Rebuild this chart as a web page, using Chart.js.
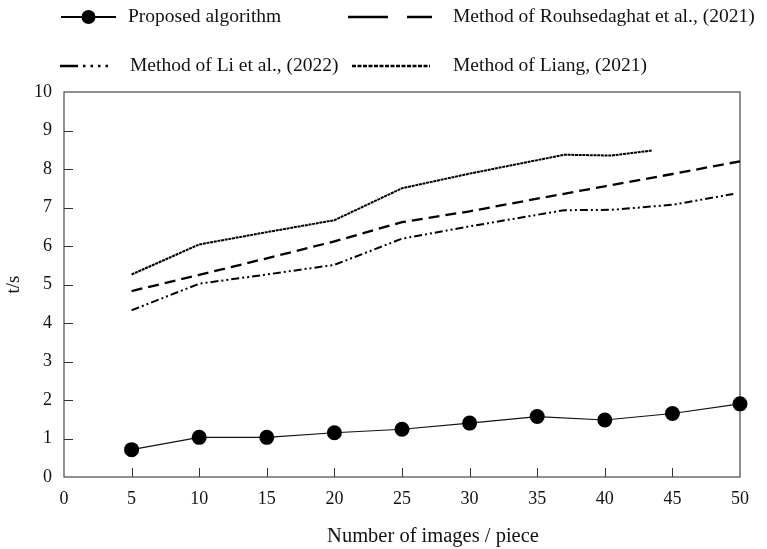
<!DOCTYPE html>
<html>
<head>
<meta charset="utf-8">
<script src="https://cdn.jsdelivr.net/npm/chart.js@4.4.1/dist/chart.umd.min.js"></script>
<style>
    html, body { margin: 0; padding: 0; background: #fff; }
    #wrap { width: 767px; height: 549px; }
</style>
</head>
<body>
<div id="wrap"><canvas id="chart"></canvas></div>
<script>
// values
const proposedX = [5, 10, 15, 20, 25, 30, 35, 40, 45, 50];
const proposedY = [0.71, 1.03, 1.03, 1.15, 1.24, 1.40, 1.57, 1.48, 1.65, 1.90];
const rouhX = [5, 10, 15, 20, 25, 30, 35, 40, 45, 50];
const rouhY = [4.83, 5.25, 5.68, 6.12, 6.62, 6.90, 7.23, 7.55, 7.87, 8.20];
const liX = [5, 10, 15, 20, 25, 30, 37, 40.5, 45, 49.5];
const liY = [4.33, 5.02, 5.26, 5.51, 6.19, 6.51, 6.93, 6.94, 7.07, 7.35];
const liangX = [5, 10, 15, 20, 25, 30, 35, 37, 40.5, 43.5];
const liangY = [5.26, 6.04, 6.36, 6.67, 7.50, 7.88, 8.23, 8.37, 8.35, 8.48];

const labels = ['Proposed algorithm', 'Method of Rouhsedaghat et al., (2021)',
    'Method of Li et al., (2022)', 'Method of Liang, (2021)'];
const xTitle = 'Number of images / piece';
const yTitle = 't/s';

const toPts = (xs, ys) => xs.map((x, i) => ({ x: x, y: ys[i] }));

const serif = "'Liberation Serif', 'Times New Roman', serif";
Chart.defaults.font.family = serif;
Chart.defaults.color = '#111';

// frame around the plot area and the inward tick marks
const framePlugin = {
    id: 'frame',
    beforeDatasetsDraw(chart) {
        const { ctx, chartArea: a, scales } = chart;
        ctx.save();
        ctx.strokeStyle = '#555';
        ctx.lineWidth = 1.3;
        ctx.strokeRect(a.left, a.top, a.right - a.left, a.bottom - a.top);
        ctx.strokeStyle = '#333';
        ctx.lineWidth = 1;
        scales.x.ticks.forEach(t => {
            if (t.value <= scales.x.min || t.value >= scales.x.max) return;
            const px = Math.round(scales.x.getPixelForValue(t.value)) + 0.5;
            ctx.beginPath();
            ctx.moveTo(px, a.bottom);
            ctx.lineTo(px, a.bottom - 9);
            ctx.stroke();
        });
        scales.y.ticks.forEach(t => {
            if (t.value <= scales.y.min || t.value >= scales.y.max) return;
            const py = Math.round(scales.y.getPixelForValue(t.value)) + 0.5;
            ctx.beginPath();
            ctx.moveTo(a.left, py);
            ctx.lineTo(a.left + 9, py);
            ctx.stroke();
        });
        ctx.restore();
    }
};

// legend in two rows above the plot, as in the figure, plus the x title
// (the title sits right of the plot centre in the figure)
const legendPos = [
    { x0: 61, x1: 116, tx: 128, y: 17, dash: [] },
    { x0: 348, x1: 432, tx: 453, y: 17, dash: [40, 19] },
    { x0: 60, x1: 108, tx: 130, y: 66, dash: [18, 5, 2.5, 5, 2.5, 5, 2.5, 5] },
    { x0: 352, x1: 430, tx: 453, y: 66, dash: [4, 1.5] },
];
const legendPlugin = {
    id: 'twoRowLegend',
    afterDraw(chart) {
        const ctx = chart.ctx;
        ctx.save();
        chart.data.datasets.forEach((ds, i) => {
            const p = legendPos[i];
            ctx.strokeStyle = '#000';
            ctx.lineWidth = i === 0 ? 2 : 2.5;
            ctx.setLineDash(p.dash);
            ctx.beginPath();
            ctx.moveTo(p.x0, p.y);
            ctx.lineTo(p.x1, p.y);
            ctx.stroke();
            ctx.setLineDash([]);
            if (i === 0) {
                ctx.fillStyle = '#000';
                ctx.beginPath();
                ctx.arc((p.x0 + p.x1) / 2, p.y, 7, 0, Math.PI * 2);
                ctx.fill();
            }
            ctx.fillStyle = '#111';
            ctx.font = '19.5px ' + serif;
            ctx.textBaseline = 'middle';
            ctx.textAlign = 'left';
            ctx.fillText(ds.label, p.tx, p.y);
        });
        ctx.font = '20.5px ' + serif;
        ctx.textAlign = 'center';
        ctx.textBaseline = 'middle';
        ctx.fillText(xTitle, 433, 537);
        ctx.restore();
    }
};

const ctx = document.getElementById('chart').getContext('2d');
const chart = new Chart(ctx, {
    type: 'line',
    data: {
        datasets: [
            {
                label: labels[0],
                data: toPts(proposedX, proposedY),
                borderColor: '#111',
                backgroundColor: '#000',
                borderWidth: 1.2,
                pointRadius: 7.5,
                pointBorderWidth: 0,
                pointBackgroundColor: '#000',
                clip: false,
            },
            {
                label: labels[1],
                data: toPts(rouhX, rouhY),
                borderColor: '#000',
                borderWidth: 2.3,
                borderDash: [11, 6],
                pointRadius: 0,
                clip: false,
            },
            {
                label: labels[2],
                data: toPts(liX, liY),
                borderColor: '#000',
                borderWidth: 2,
                borderDash: [8, 3, 2, 3, 2, 3],
                pointRadius: 0,
                clip: false,
            },
            {
                label: labels[3],
                data: toPts(liangX, liangY),
                borderColor: '#000',
                borderWidth: 2,
                borderDash: [3, 0.7],
                pointRadius: 0,
                clip: false,
            },
        ],
    },
    options: {
        responsive: true,
        maintainAspectRatio: false,
        animation: false,
        layout: { padding: { top: 92, right: 27, left: 0, bottom: 0 } },
        plugins: {
            legend: { display: false },
            tooltip: { enabled: false },
        },
        scales: {
            x: {
                type: 'linear',
                min: 0,
                max: 50,
                grid: { display: false, drawTicks: false },
                border: { display: false },
                ticks: { stepSize: 5, padding: 11, font: { size: 18 }, color: '#111' },
                afterFit: (scale) => { scale.height = 72; },
            },
            y: {
                min: 0,
                max: 10,
                grid: { display: false, drawTicks: false },
                border: { display: false },
                ticks: { stepSize: 1, padding: 12, font: { size: 18 }, color: '#111' },
                title: {
                    display: true,
                    text: yTitle,
                    font: { size: 19 },
                    color: '#111',
                    padding: { top: 3, bottom: 4 },
                },
                afterFit: (scale) => { scale.width = 64; },
            },
        },
    },
    plugins: [framePlugin, legendPlugin],
});
</script>
</body>
</html>
